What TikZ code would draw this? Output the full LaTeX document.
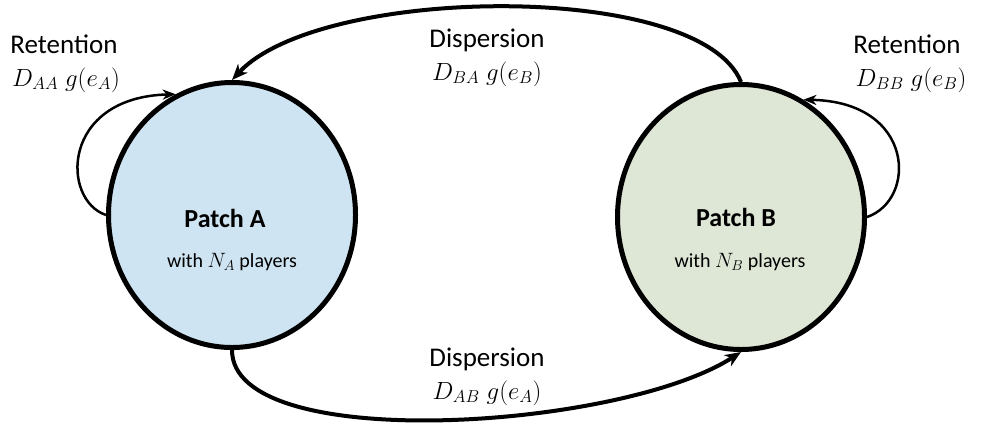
\documentclass[tikz,border=0pt]{standalone}
\usepackage{fontspec}
\setmainfont{Carlito}
\usetikzlibrary{arrows.meta,shapes.geometric}
\definecolor{fillA}{RGB}{207,228,242}
\definecolor{fillB}{RGB}{222,230,213}
\begin{document}
\begin{tikzpicture}[x=1pt,y=-1pt,
  patch/.style={ellipse,draw=black,line width=5pt,minimum width=247pt,minimum height=265pt,inner sep=0pt},
  lbl/.style={anchor=base,inner sep=0pt,font=\fontsize{27}{31}\selectfont},
  mlbl/.style={anchor=base,inner sep=0pt,font=\fontsize{27}{31}\selectfont},
  sublbl/.style={anchor=base,inner sep=0pt,font=\fontsize{20}{24}\selectfont},
  disp/.style={line width=4pt,-{Stealth[length=16pt,width=13pt,inset=5pt]}},
  ret/.style={line width=2.5pt,-{Stealth[length=13pt,width=10pt,inset=4pt]}}]
\useasboundingbox (0,0) rectangle (981,432);
\node[patch,fill=fillA] (A) at (232,215) {};
\node[patch,fill=fillB] (B) at (741,217) {};
\node[lbl,font=\fontsize{26}{30}\selectfont\bfseries] (pa) at (225,227) {Patch A};
\node[sublbl] (na) at (232,267) {with $N_A$ players};
\node[lbl,font=\fontsize{26}{30}\selectfont\bfseries] (pb) at (736,226) {Patch B};
\node[sublbl] (nb) at (740,267) {with $N_B$ players};
% labels
\node[lbl] (rA) at (64,53) {Retention};
\node[mlbl] (rAm) at (66,86) {$D_{AA}\;g(e_A)$};
\node[lbl] (rB) at (907,53) {Retention};
\node[mlbl] (rBm) at (911,86) {$D_{BB}\;g(e_B)$};
\node[lbl] (dt) at (487,47) {Dispersion};
\node[mlbl] (dtm) at (487,80) {$D_{BA}\;g(e_B)$};
\node[lbl] (db) at (487,366) {Dispersion};
\node[mlbl] (dbm) at (487,399) {$D_{AB}\;g(e_A)$};
% connectors
\draw[disp] (B.north) .. controls +(-41,-102) and +(88,-95) .. (A.north);
\draw[disp] (A.south) .. controls +(0,105) and +(-121,78) .. (B.south);
\draw[ret] (A.west) .. controls +(-45,-15) and +(-115,3) .. (A.115);
\draw[ret] (B.east) .. controls +(50,-17) and +(112,2) .. (B.62);
\end{tikzpicture}
\end{document}
